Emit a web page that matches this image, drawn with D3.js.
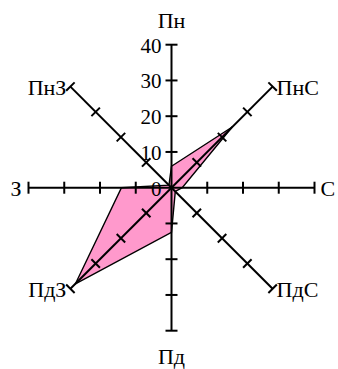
<!DOCTYPE html>
<html><head><meta charset="utf-8">
<script src="https://cdn.jsdelivr.net/npm/d3@7"></script>
<style>body{margin:0;background:#fff}svg{display:block}</style>
</head><body><svg id="c" width="338" height="369"></svg>
<script>
const directions = ["Пн","ПнС","С","ПдС","Пд","ПдЗ","З","ПнЗ"];
const values = [6, 24, 3, 1.5, 12.5, 38, 14, 1];
const tickValues = [0, 10, 20, 30, 40];

const svg = d3.select("#c");
const cx = 171.5, cy = 187.7, R = 143;
const r = d3.scaleLinear().domain([0, 40]).range([0, R]);
const ang = d3.scaleLinear().domain([0, directions.length]).range([0, 2 * Math.PI]);
const font = "'Liberation Serif','Times New Roman',serif";

const g = svg.append("g").attr("transform", `translate(${cx},${cy})`);

// data polygon
const radial = d3.lineRadial()
  .angle((d, i) => ang(i))
  .radius(d => r(d))
  .curve(d3.curveLinearClosed);
g.append("path")
  .attr("d", radial(values))
  .attr("fill", "#ff99cc")
  .attr("stroke", "#000")
  .attr("stroke-width", 1.4)
  .attr("stroke-linejoin", "miter");

// axes
directions.forEach((dir, i) => {
  const a = g.append("g").attr("transform", `rotate(${ang(i) * 180 / Math.PI})`);
  a.append("line").attr("x1", 0).attr("y1", 0).attr("x2", 0).attr("y2", -r(40))
    .attr("stroke", "#000").attr("stroke-width", 2);
  tickValues.filter(t => t > 0).forEach(t => {
    a.append("line").attr("x1", -6).attr("x2", 6).attr("y1", -r(t)).attr("y2", -r(t))
      .attr("stroke", "#000").attr("stroke-width", 2);
  });
});

// tick labels on north axis
g.selectAll("text.tick").data(tickValues).join("text")
  .attr("class", "tick")
  .attr("x", -10).attr("y", d => -r(d) + 1)
  .attr("text-anchor", "end").attr("dominant-baseline", "central")
  .attr("font-family", font).attr("font-size", 21)
  .text(d => d);

// direction labels
const gapDiag = 4;
directions.forEach((dir, i) => {
  const th = ang(i);
  const sx = Math.sin(th), sy = -Math.cos(th);
  let x = sx * r(40), y = sy * r(40), anchor = "middle";
  if (i === 0) { y -= 25; }
  else if (i === 4) { y += 25; }
  else if (i === 2) { x += 6; anchor = "start"; }
  else if (i === 6) { x -= 7; anchor = "end"; }
  else if (sx > 0) { x += gapDiag; anchor = "start"; }
  else { x -= gapDiag; anchor = "end"; }
  g.append("text").attr("x", x).attr("y", y + 1)
    .attr("text-anchor", anchor).attr("dominant-baseline", "central")
    .attr("font-family", font).attr("font-size", 22)
    .text(dir);
});
</script></body></html>
